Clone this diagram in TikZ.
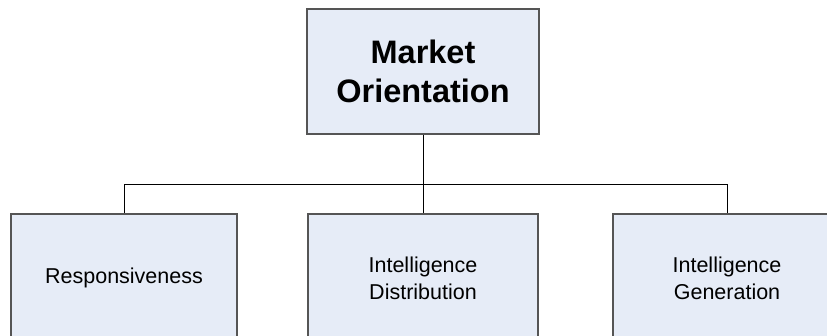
\documentclass[tikz,border=0pt]{standalone}
\usepackage{fontspec}
\setmainfont{Liberation Sans}
\definecolor{boxfill}{HTML}{E6ECF7}
\definecolor{boxline}{HTML}{555555}
\tikzset{
  box/.style = {draw = boxline, fill = boxfill, line width = 1.1pt, align = center,
                font = \fontsize{21.5}{27}\selectfont, inner sep = 0pt},
  link/.style = {draw = black, line width = 1pt}
}
\begin{document}
\begin{tikzpicture}[x = 1pt, y = -1pt]
\useasboundingbox (0,0) rectangle (827,335);
\node [box, minimum width = 232pt, minimum height = 125pt,
       font = \fontsize{32.5}{39}\selectfont\bfseries] (market) at (423,71.5) {Market\\Orientation};
\node [box, minimum width = 226pt, minimum height = 128pt] (resp) at (124,278) {Responsiveness};
\node [box, minimum width = 230pt, minimum height = 128pt] (dist) at (423,278) {Intelligence\\Distribution};
\node [box, minimum width = 228pt, minimum height = 128pt] (gen) at (727,278) {Intelligence\\Generation};
\coordinate (bus) at (423,184);
\draw [link] (market.south) -- (bus);
\draw [link] (bus) -| (resp.north);
\draw [link] (bus) -| (gen.north);
\draw [link] (bus) -- (dist.north);
\end{tikzpicture}
\end{document}
